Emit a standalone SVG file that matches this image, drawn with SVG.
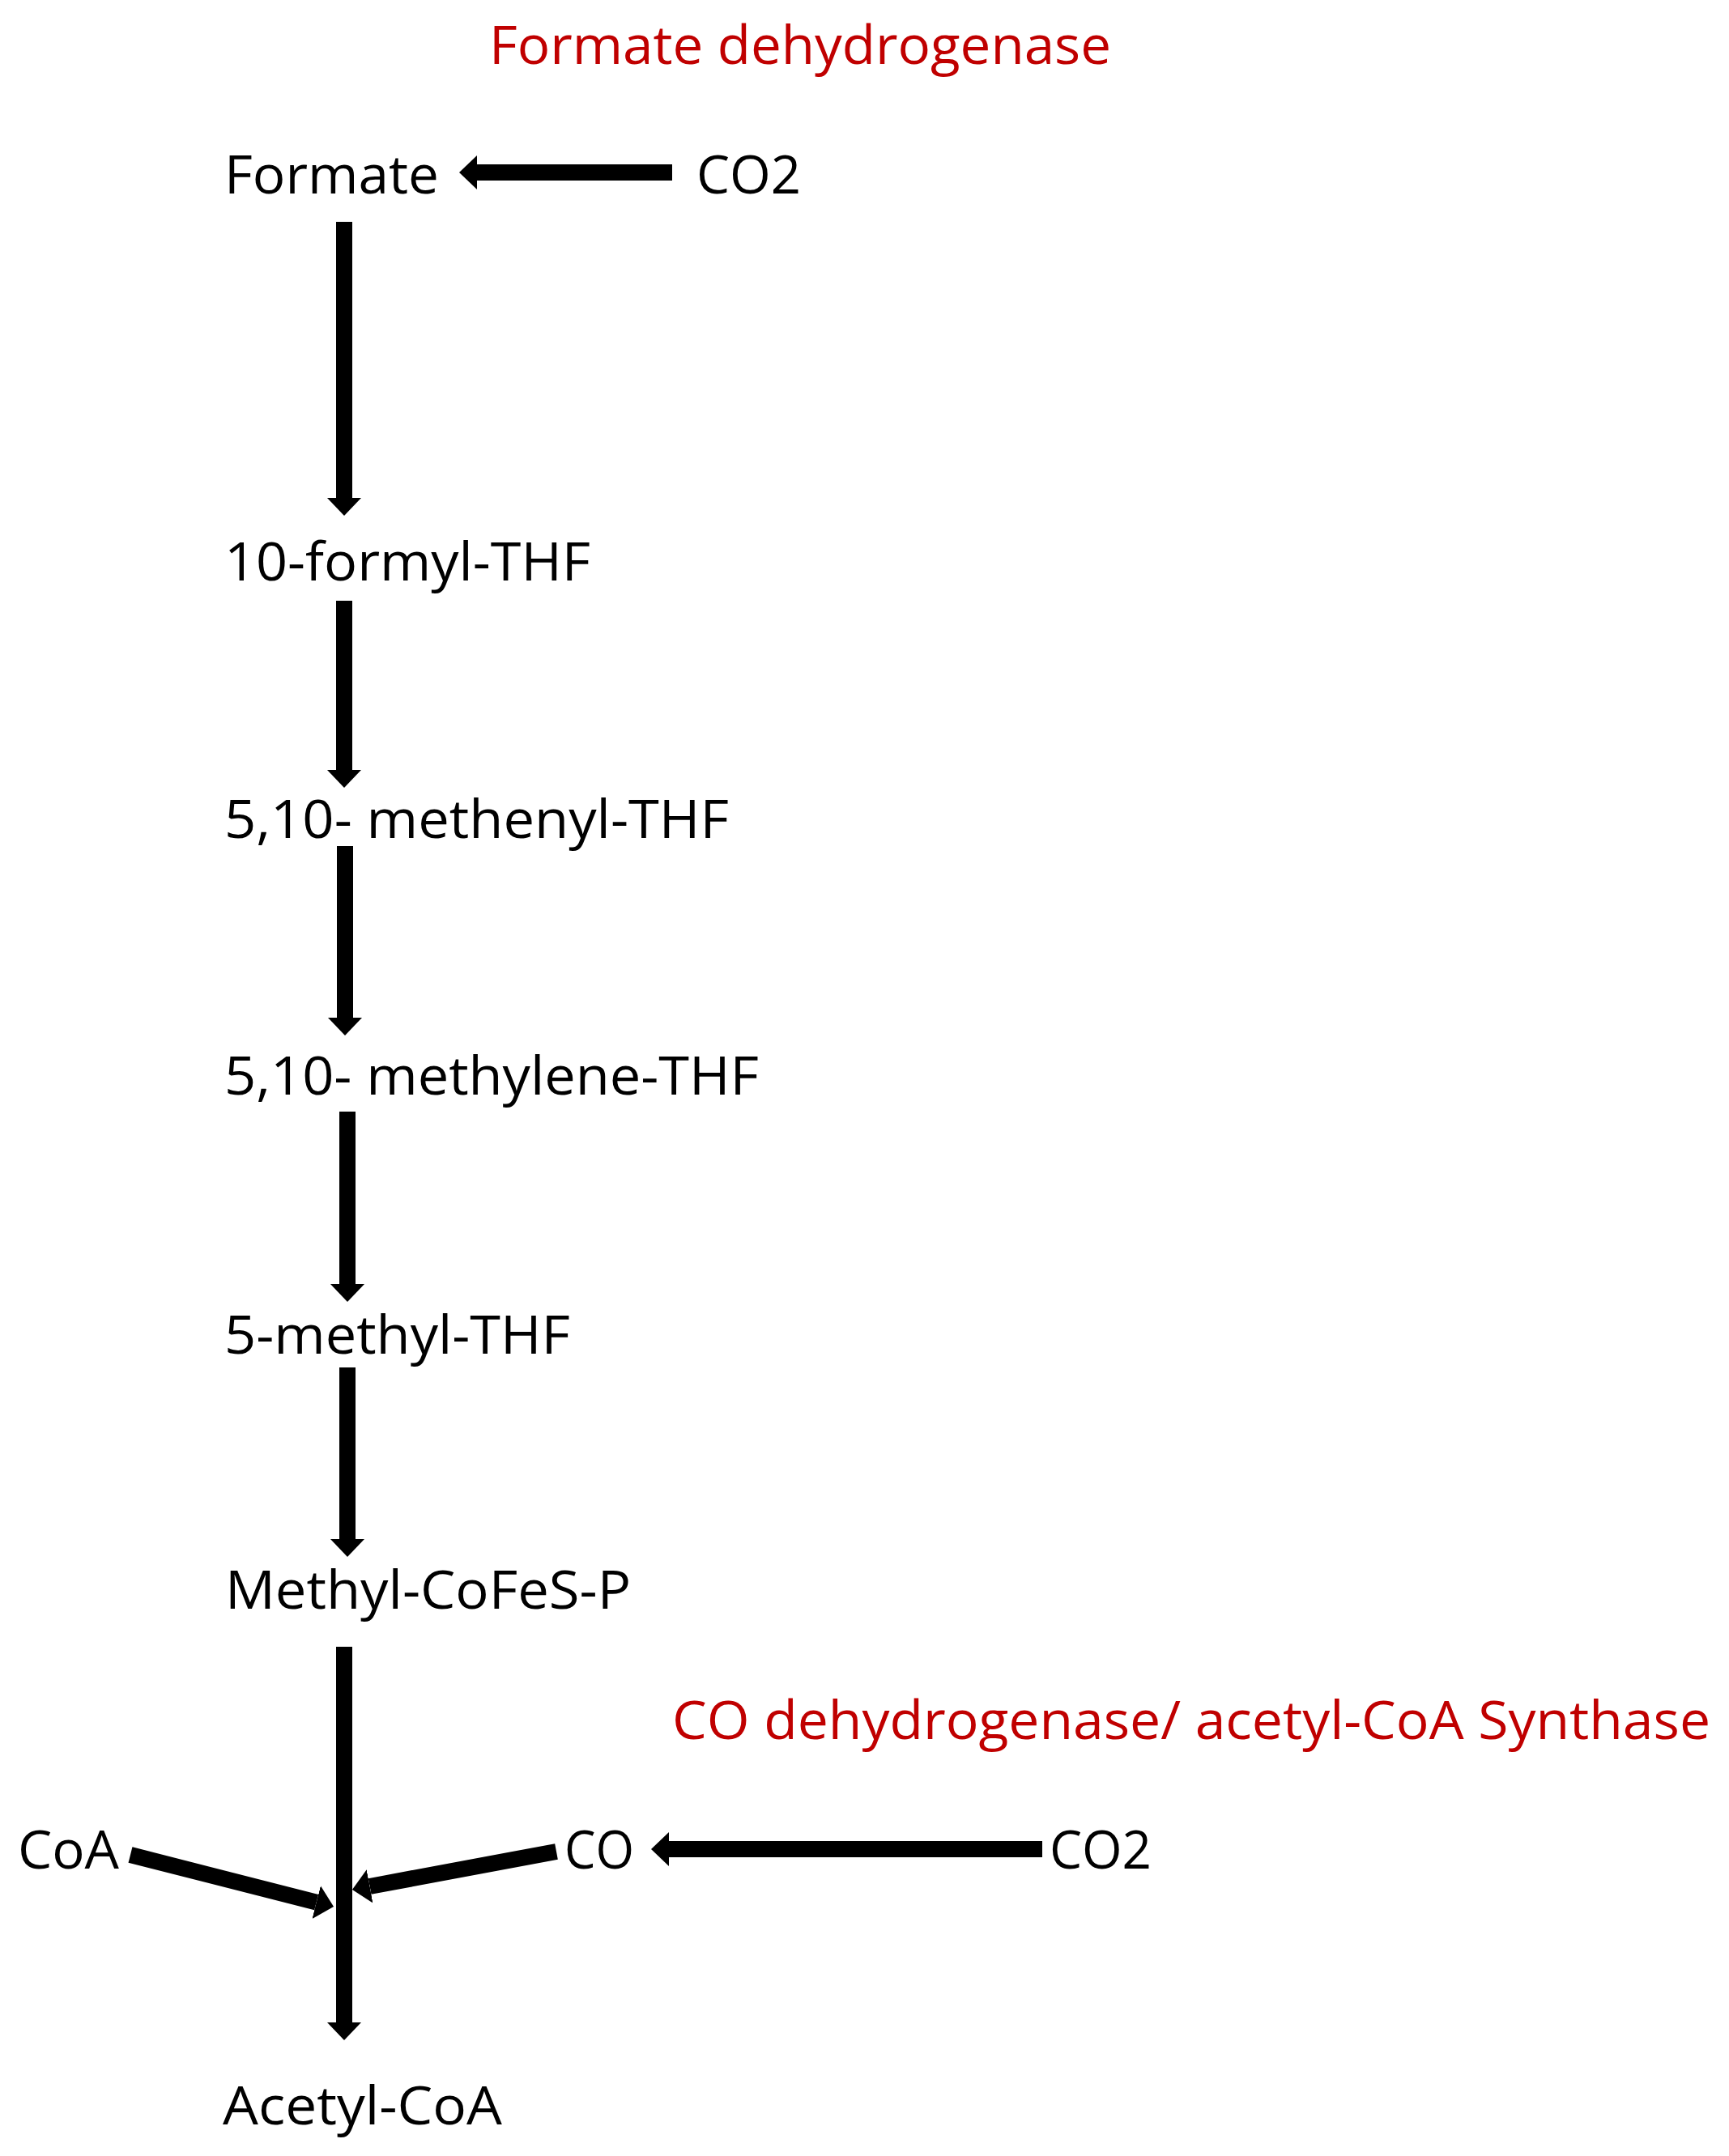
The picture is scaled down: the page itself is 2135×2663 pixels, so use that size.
<svg xmlns="http://www.w3.org/2000/svg" width="2135" height="2663" viewBox="0 0 2135 2663">
<defs>
<style>
text{font-family:"Open Sans","Liberation Sans",sans-serif;font-size:66px;fill:#000}
.red{fill:#C00000}
.arr{stroke:#000;stroke-width:20;fill:none;stroke-linecap:butt}
</style>
<marker id="ah" markerUnits="userSpaceOnUse" viewBox="0 0 22 42" refX="0" refY="21" markerWidth="22" markerHeight="42" orient="auto">
<path d="M0,0 L22,21 L0,42 Z" fill="#000"/>
</marker>
</defs>
<rect width="2135" height="2663" fill="#fff"/>
<g id="label-fdh"><text class="red" x="604" y="79" textLength="768" lengthAdjust="spacingAndGlyphs">Formate dehydrogenase</text></g>
<g id="node-formate"><text x="277" y="239" textLength="265" lengthAdjust="spacingAndGlyphs">Formate</text></g>
<g id="node-co2-top"><text x="860" y="239" textLength="129" lengthAdjust="spacingAndGlyphs">CO2</text></g>
<g id="node-10-formyl"><text x="277" y="717" textLength="452" lengthAdjust="spacingAndGlyphs">10-formyl-THF</text></g>
<g id="node-methenyl"><text x="277" y="1035" textLength="623" lengthAdjust="spacingAndGlyphs">5,10- methenyl-THF</text></g>
<g id="node-methylene"><text x="277" y="1352" textLength="660" lengthAdjust="spacingAndGlyphs">5,10- methylene-THF</text></g>
<g id="node-5-methyl"><text x="277" y="1672" textLength="427" lengthAdjust="spacingAndGlyphs">5-methyl-THF</text></g>
<g id="node-methyl-cofes"><text x="278" y="1987" textLength="501" lengthAdjust="spacingAndGlyphs">Methyl-CoFeS-P</text></g>
<g id="label-codh"><text class="red" x="830" y="2148" textLength="1282" lengthAdjust="spacingAndGlyphs">CO dehydrogenase/ acetyl-CoA Synthase</text></g>
<g id="node-coa"><text x="22" y="2308" textLength="125" lengthAdjust="spacingAndGlyphs">CoA</text></g>
<g id="node-co"><text x="697" y="2308" textLength="86" lengthAdjust="spacingAndGlyphs">CO</text></g>
<g id="node-co2-bottom"><text x="1296" y="2308" textLength="126" lengthAdjust="spacingAndGlyphs">CO2</text></g>
<g id="node-acetyl-coa"><text x="275" y="2624" textLength="345" lengthAdjust="spacingAndGlyphs">Acetyl-CoA</text></g>
<g id="connectors">
<line class="arr" x1="830" y1="213" x2="589" y2="213" stroke-width="18" marker-end="url(#ah)"/>
<line class="arr" x1="425" y1="274" x2="425" y2="615" marker-end="url(#ah)"/>
<line class="arr" x1="425" y1="742" x2="425" y2="951" marker-end="url(#ah)"/>
<line class="arr" x1="426" y1="1045" x2="426" y2="1257" marker-end="url(#ah)"/>
<line class="arr" x1="429" y1="1373" x2="429" y2="1586" marker-end="url(#ah)"/>
<line class="arr" x1="429" y1="1689" x2="429" y2="1901" marker-end="url(#ah)"/>
<line class="arr" x1="425" y1="2034" x2="425" y2="2498" marker-end="url(#ah)"/>
<line class="arr" x1="1287" y1="2284" x2="826" y2="2284" marker-end="url(#ah)"/>
<line class="arr" x1="161" y1="2291" x2="390.7" y2="2349.6" stroke-width="19" marker-end="url(#ah)"/>
<line class="arr" x1="687" y1="2287" x2="456.6" y2="2330" stroke-width="19" marker-end="url(#ah)"/>
</g>
</svg>
